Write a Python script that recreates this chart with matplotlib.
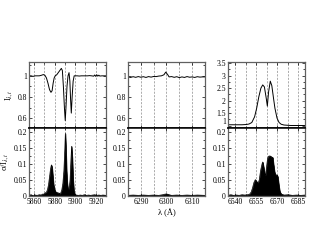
import numpy as np
import matplotlib
matplotlib.use("Agg")
import matplotlib.pyplot as plt
from matplotlib.ticker import MultipleLocator, FuncFormatter

plt.rcParams['font.family'] = ['Liberation Serif', 'DejaVu Serif']
plt.rcParams['mathtext.fontset'] = 'stix'

# ---- Data: Na D region ----
na_wl = [5855, 5857, 5859, 5861, 5863, 5865, 5867, 5869, 5870.5, 5872, 5873.5, 5875,
         5876.4, 5877.5, 5878.5, 5879.5, 5880.5, 5882, 5883.5, 5885, 5886.5, 5887.5,
         5888.5, 5889.5, 5890.3, 5891, 5892, 5893, 5894, 5894.8, 5895.5, 5896.2, 5897,
         5898, 5899, 5900, 5902, 5904, 5906, 5908, 5910, 5912, 5914, 5916, 5918, 5919,
         5920, 5921, 5922, 5923, 5924, 5926, 5928, 5930]
na_int = [1.0, 1.0, 0.995, 1.0, 1.0, 1.0, 1.005, 1.012, 1.005, 0.98, 0.93, 0.87,
          0.845, 0.86, 0.93, 0.98, 1.0, 1.01, 1.03, 1.05, 1.07, 1.05,
          0.9, 0.7, 0.58, 0.7, 0.9, 1.0, 1.03, 0.95, 0.78, 0.65, 0.8,
          0.95, 1.0, 1.0, 1.0, 0.998, 1.0, 1.0, 1.0, 1.0, 1.002, 1.0, 0.997, 1.008,
          0.995, 1.01, 0.997, 1.006, 0.998, 1.0, 1.0, 1.0]
na_sig_wl = [5855, 5857, 5859, 5861, 5863, 5865, 5867, 5868, 5869, 5870, 5871, 5872,
             5873, 5874, 5875, 5876, 5876.8, 5877.5, 5878.3, 5879, 5880, 5881, 5882,
             5883, 5884, 5885, 5886, 5887, 5888, 5889, 5889.8, 5890.4, 5891, 5891.6,
             5892.3, 5893, 5894, 5895, 5895.8, 5896.5, 5897.2, 5898, 5898.8, 5899.5,
             5901, 5903, 5905, 5907, 5909, 5911, 5913, 5915, 5917, 5919, 5921, 5923,
             5925, 5927, 5930]
na_sig = [0.002, 0.004, 0.001, 0.003, 0.002, 0.004, 0.003, 0.006, 0.005, 0.008, 0.01, 0.012,
          0.02, 0.035, 0.06, 0.085, 0.097, 0.09, 0.06, 0.035, 0.02, 0.012, 0.012,
          0.008, 0.01, 0.006, 0.01, 0.02, 0.04, 0.08, 0.14, 0.195, 0.15, 0.08,
          0.04, 0.022, 0.02, 0.05, 0.11, 0.155, 0.12, 0.05, 0.015, 0.005,
          0.003, 0.002, 0.003, 0.002, 0.004, 0.002, 0.003, 0.002, 0.003, 0.004, 0.002, 0.003,
          0.002, 0.003, 0.002]

# ---- Data: [OI] 6300 region ----
oi_wl = [6285, 6286, 6287, 6288, 6289, 6290, 6291, 6292, 6293, 6294, 6295, 6296, 6297,
         6298, 6299, 6299.7, 6300.5, 6301, 6302, 6303, 6304, 6305, 6306, 6307, 6308,
         6309, 6310, 6311, 6312, 6313, 6314, 6315]
oi_int = [0.99, 0.985, 0.992, 0.986, 0.993, 0.987, 0.992, 0.985, 0.993, 0.988, 0.994, 0.993,
          0.998, 1.0, 1.01, 1.035, 1.01, 0.99, 0.993, 0.986, 0.992, 0.983, 0.99, 0.985,
          0.993, 0.987, 0.99, 0.985, 0.992, 0.988, 0.99, 0.99]
oi_sig_wl = [6285, 6287, 6289, 6291, 6293, 6295, 6297, 6298.5, 6299.5, 6300.2, 6301, 6302,
             6304, 6306, 6308, 6310, 6312, 6315]
oi_sig = [0.002, 0.003, 0.002, 0.003, 0.002, 0.003, 0.002, 0.004, 0.006, 0.006, 0.004, 0.002,
          0.003, 0.002, 0.003, 0.002, 0.003, 0.002]

# ---- Data: H-alpha region ----
ha_wl = [6535, 6540, 6545, 6548, 6550, 6552, 6554, 6555.5, 6557, 6558.5, 6559.8, 6561,
         6562.3, 6563.1, 6564, 6565.2, 6566.3, 6567.5, 6568.5, 6570, 6571.5, 6573, 6575,
         6580, 6585, 6590]
ha_int = [1.03, 1.03, 1.03, 1.04, 1.06, 1.12, 1.35, 1.7, 2.15, 2.5, 2.63, 2.55,
          2.1, 1.78, 2.35, 2.78, 2.6, 2.1, 1.7, 1.3, 1.12, 1.05, 1.02,
          1.0, 1.0, 1.0]
ha_sig_wl = [6535, 6537, 6539, 6541, 6543, 6545, 6547, 6549, 6550.5, 6551.5, 6552.5, 6553.5,
             6554.5, 6555.5, 6556.5, 6557.3, 6558.3, 6559.3, 6559.8, 6560.5, 6561.3, 6561.8,
             6562.5, 6563.3, 6564, 6565, 6566, 6567, 6567.5, 6568.3, 6569, 6570, 6570.6,
             6571.3, 6572, 6573, 6575, 6578, 6581, 6584, 6587, 6590]
ha_sig = [0.002, 0.004, 0.002, 0.003, 0.002, 0.004, 0.003, 0.004, 0.006, 0.012, 0.025, 0.042,
          0.051, 0.045, 0.04, 0.05, 0.08, 0.1, 0.106, 0.09, 0.068, 0.064,
          0.09, 0.118, 0.124, 0.125, 0.122, 0.12, 0.1, 0.075, 0.065, 0.066, 0.06,
          0.035, 0.015, 0.006, 0.003, 0.004, 0.002, 0.003, 0.002, 0.003]

panels = [
    dict(wl=na_wl, y=na_int, swl=na_sig_wl, s=na_sig, xlim=(5855, 5930),
         xticks=[5860, 5880, 5900, 5920], grid=10, ylim=(0.51, 1.13),
         ymaj=0.2, ymin=0.1, left=29),
    dict(wl=oi_wl, y=oi_int, swl=oi_sig_wl, s=oi_sig, xlim=(6285, 6315),
         xticks=[6290, 6300, 6310], grid=5, ylim=(0.51, 1.13),
         ymaj=0.2, ymin=0.1, left=128),
    dict(wl=ha_wl, y=ha_int, swl=ha_sig_wl, s=ha_sig, xlim=(6535, 6590),
         xticks=[6540, 6555, 6570, 6585], grid=7.5, ylim=(0.9, 3.55),
         ymaj=0.5, ymin=0.25, left=228),
]

W, H = 317, 245
fig = plt.figure(figsize=(W / 100, H / 100), dpi=100)

fs = 5.5
gfmt = FuncFormatter(lambda v, p: ('%g' % round(v, 4)))
spine_col = '#606060'

def style(ax):
    for s in ax.spines.values():
        s.set_color(spine_col)
        s.set_linewidth(0.9)
    ax.tick_params(which='both', direction='in', top=True, right=True,
                   labelsize=fs, pad=1.5, width=0.5, colors='black')
    ax.tick_params(which='major', length=2.5)
    ax.tick_params(which='minor', length=1.5)

top_px, mid_px, bot_px = 62, 128, 196
axw = 77 / W
upper_axes = []
for i, p in enumerate(panels):
    x0 = p['left'] / W
    axu = fig.add_axes([x0, 1 - mid_px / H, axw, (mid_px - top_px) / H])
    axl = fig.add_axes([x0, 1 - bot_px / H, axw, (bot_px - mid_px) / H], sharex=axu)
    upper_axes.append(axu)
    for ax in (axu, axl):
        style(ax)
        g0 = np.ceil(p['xlim'][0] / p['grid']) * p['grid']
        for gx in np.arange(g0, p['xlim'][1] + 1e-6, p['grid']):
            ax.axvline(gx, color='#8a8a8a', lw=0.5, ls=(0, (3, 2)), zorder=0)
    axu.plot(p['wl'], p['y'], color='black', lw=0.7)
    axu.set_xlim(*p['xlim'])
    axu.set_ylim(*p['ylim'])
    axu.yaxis.set_major_locator(MultipleLocator(p['ymaj']))
    axu.yaxis.set_minor_locator(MultipleLocator(p['ymin']))
    axu.yaxis.set_major_formatter(gfmt)
    axu.tick_params(labelbottom=False)
    axu.spines['bottom'].set_color('black')
    axu.spines['bottom'].set_linewidth(1.1)

    axl.fill_between(p['swl'], 0, p['s'], color='black', lw=0.5)
    axl.plot(p['swl'], p['s'], color='black', lw=0.5)
    axl.set_ylim(0, 0.212)
    axl.yaxis.set_major_locator(MultipleLocator(0.05))
    axl.yaxis.set_minor_locator(MultipleLocator(0.025))
    axl.yaxis.set_major_formatter(gfmt)
    axl.set_xticks(p['xticks'])
    axl.xaxis.set_minor_locator(MultipleLocator(p['grid']))
    axl.xaxis.set_major_formatter(gfmt)
    axl.spines['top'].set_color('black')
    axl.spines['top'].set_linewidth(1.1)

    if i == 0:
        axu.set_ylabel(r'I$_{\lambda,t}$', fontsize=6, labelpad=2)
        axl.set_ylabel(r'σ/I$_{\lambda,t}$', fontsize=6, labelpad=2)
    if i == 1:
        axl.set_xlabel('λ (Å)', fontsize=6, labelpad=2)

# nudge the lowest label of the Halpha intensity panel upward to avoid touching "0.2"
fig.canvas.draw()
for t in upper_axes[2].yaxis.get_major_ticks():
    if t.label1.get_text() == '1':
        t.label1.set_va('bottom')

fig.savefig('out.png', dpi=100)
